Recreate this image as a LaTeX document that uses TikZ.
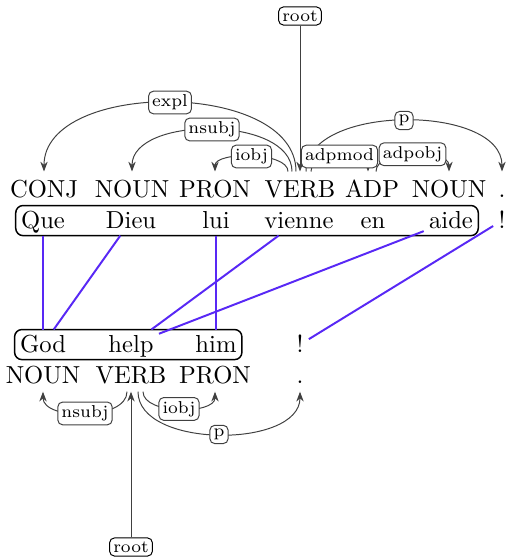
\documentclass[tikz,border=0pt]{standalone}
\usepackage{tikz}
\usetikzlibrary{calc,fit,arrows.meta}
\definecolor{alignblue}{RGB}{88,40,245}
\tikzset{
    pos tag/.style={anchor=base,text height=6.83pt,text depth=0pt},
    word/.style={anchor=base,inner sep=2pt,text height=6.94pt,text depth=0.9pt},
    sentence box/.style={draw,semithick,rounded corners=3pt,inner sep=0pt},
    dep label/.style={
        draw,thin,rounded corners=2pt,
        fill=white,inner sep=1.5pt,
        font=\scriptsize
    },
    dep edge/.style={draw=black!75,thin,->},
    align line/.style={alignblue,line width=0.8pt},
    >={Stealth[length=4pt,width=3pt]}
}

\begin{document}
\begin{tikzpicture}[x=0.4065pt,y=-0.4065pt]
\useasboundingbox (0,0) rectangle (507,557);
% french sentence
\foreach \i/\x/\tag in {0/44/CONJ,1/132/NOUN,2/215/PRON,3/300/VERB,4/372/ADP,5/449/NOUN,6/502/.}
    \node[pos tag] (fr_tag_\i) at (\x,197) {\tag};
\foreach \i/\x/\w in {0/43/Que,1/131/Dieu,2/216/lui,3/299/vienne,4/373/en,5/451/aide,6/502/!}
    \node[word] (fr_\i) at (\x,228) {\w};
\node[sentence box,fit=(fr_0)(fr_5)] (fr_box) {};

% english sentence
\foreach \i/\x/\w in {0/43/God,1/131/help,2/216/him,3/300/!}
    \node[word] (en_\i) at (\x,352) {\w};
\node[sentence box,fit=(en_0)(en_2)] (en_box) {};
\foreach \i/\x/\tag in {0/43/NOUN,1/131/VERB,2/215/PRON,3/300/.}
    \node[pos tag] (en_tag_\i) at (\x,383) {\tag};

% word alignment
\foreach \a/\b in {0/0,1/0,2/2,3/1,5/1,6/3}
    \draw[align line] (fr_\a) -- (en_\b);

% french dependencies
\node[dep label] (fr_root) at (300,16) {root};
\draw[dep edge] (fr_root) -- (fr_tag_3);
\draw[dep edge] ($(fr_tag_3.north)+(-4,0)$) .. controls +(0,-92) and +(0,-92) .. (fr_tag_0.north) node[midway,dep label] {expl};
\draw[dep edge] ($(fr_tag_3.north)+(-8,0)$) .. controls +(0,-56) and +(0,-56) .. (fr_tag_1.north) node[midway,dep label] {nsubj};
\draw[dep edge] ($(fr_tag_3.north)+(-12,0)$) .. controls +(0,-20) and +(0,-20) .. (fr_tag_2.north) node[midway,dep label] {iobj};
\draw[dep edge] ($(fr_tag_3.north)+(6,0)$) .. controls +(0,-68) and +(0,-68) .. (fr_tag_6.north) node[midway,dep label] {p};
\draw[dep edge] ($(fr_tag_3.north)+(11,0)$) .. controls +(0,-20) and +(0,-20) .. ($(fr_tag_4.north)+(-4,0)$) node[midway,dep label] {adpmod};
\draw[dep edge] ($(fr_tag_4.north)+(4,0)$) .. controls +(0,-23) and +(0,-23) .. (fr_tag_5.north) node[midway,dep label] {adpobj};

% english dependencies
\node[dep label] (en_root) at (131,547) {root};
\draw[dep edge] (en_root) -- (en_tag_1);
\draw[dep edge] ($(en_tag_1.south)+(-4,0)$) .. controls +(0,29) and +(0,29) .. (en_tag_0.south) node[midway,dep label] {nsubj};
\draw[dep edge] ($(en_tag_1.south)+(7,0)$) .. controls +(0,57) and +(0,57) .. (en_tag_3.south) node[midway,dep label] {p};
\draw[dep edge] ($(en_tag_1.south)+(12,0)$) .. controls +(0,23) and +(0,23) .. (en_tag_2.south) node[midway,dep label] {iobj};
\end{tikzpicture}
\end{document}
